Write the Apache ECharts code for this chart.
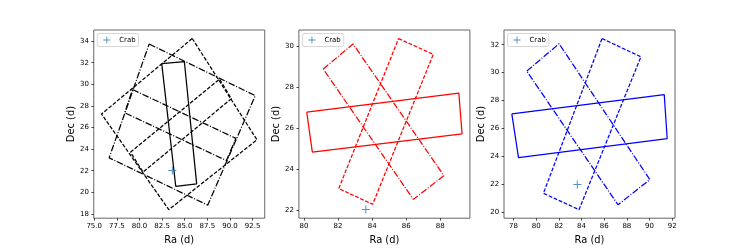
<!DOCTYPE html>
<html><head><meta charset="utf-8">
<script src="https://cdn.jsdelivr.net/npm/echarts@6/dist/echarts.min.js"></script>
<style>html,body{margin:0;padding:0;background:#fff}#c{width:750px;height:250px}</style>
</head><body><div id="c"></div>
<script>
// Crab position
const crab = [83.63, 22.01];

// Panel 1 (black)
const p1Solid   = [[82.46,31.91],[84.96,32.09],[86.32,20.78],[84.01,20.54]];
const p1SquareA = [[85.83,34.24],[92.98,24.86],[83.24,18.39],[75.81,27.25]];
const p1StripA  = [[79.00,23.71],[88.85,30.49],[90.15,28.67],[80.40,21.87]];
const p1SquareB = [[81.07,33.73],[92.79,28.95],[87.54,18.81],[76.65,23.19]];
const p1StripB  = [[79.23,29.52],[90.65,24.99],[89.60,22.94],[78.38,27.36]];

// Panel 2 (red)
const p2Solid   = [[80.16,26.77],[89.09,27.71],[89.28,25.71],[80.49,24.82]];
const p2Dashed  = [[85.55,30.37],[87.59,29.60],[84.03,22.27],[82.04,23.04]];
const p2DashDot = [[81.13,28.88],[82.88,30.11],[88.21,23.67],[86.42,22.51]];

// Panel 3 (blue)
const p3Solid   = [[77.85,27.06],[91.30,28.44],[91.56,25.29],[78.44,23.93]];
const p3Dashed  = [[85.81,32.44],[89.24,31.13],[83.78,20.21],[80.64,21.38]];
const p3DashDot = [[79.17,30.11],[82.02,32.07],[90.03,22.36],[87.22,20.56]];

// Axis ranges and ticks
const p1XRange = [74.95, 93.84], p1YRange = [17.60, 35.03];
const p2XRange = [79.70, 89.74], p2YRange = [21.59, 30.79];
const p3XRange = [77.16, 92.25], p3YRange = [19.60, 33.05];
const p1XTicks = [75, 77.5, 80, 82.5, 85, 87.5, 90, 92.5];
const p1YTicks = [18, 20, 22, 24, 26, 28, 30, 32, 34];
const p2XTicks = [80, 82, 84, 86, 88];
const p2YTicks = [22, 24, 26, 28, 30];
const p3XTicks = [78, 80, 82, 84, 86, 88, 90, 92];
const p3YTicks = [20, 22, 24, 26, 28, 30, 32];

const FONT = 'DejaVu Sans';
const LW = 1.25;
const DASH = [3.85, 1.67];
const DASHDOT = [6.67, 1.67, 1.04, 1.67];
const PLUS = 'path://M7,0h2v7h7v2h-7v7h-2v-7h-7v-2h7z';
const gridLefts = [93.75, 298.9, 504.0];
const GW = 171, GTOP = 30, GH = 192.5;

function closed(p){ return p.concat([p[0]]); }
function poly(gi, pts, color, type){
  return {type:'line', xAxisIndex:gi, yAxisIndex:gi, data:closed(pts), showSymbol:false,
    silent:true, animation:false, lineStyle:{color:color, width:LW, type:type}, z:3};
}
function crabSeries(gi){
  return {type:'scatter', name:'Crab', xAxisIndex:gi, yAxisIndex:gi, data:[crab],
    symbol:PLUS, symbolSize:8, itemStyle:{color:'#1f77b4'}, silent:true, animation:false, z:4};
}
function xAx(gi, r, ticks, fmt){
  return {type:'value', gridIndex:gi, min:r[0], max:r[1], name:'Ra (d)', nameLocation:'middle', nameGap:10.5,
    nameTextStyle:{fontSize:9.9, fontFamily:FONT, color:'#000'},
    axisLine:{show:false}, splitLine:{show:false},
    axisTick:{show:true, customValues:ticks, length:2.4, lineStyle:{color:'#000', width:0.7}},
    axisLabel:{customValues:ticks, formatter:fmt, fontSize:7, margin:4.9, color:'#000', fontFamily:FONT}};
}
function yAx(gi, r, ticks){
  return {type:'value', gridIndex:gi, min:r[0], max:r[1], name:'Dec (d)', nameLocation:'middle', nameGap:17,
    nameRotate:90, nameTextStyle:{fontSize:9.9, fontFamily:FONT, color:'#000'},
    axisLine:{show:false}, splitLine:{show:false},
    axisTick:{show:true, customValues:ticks, length:2.4, lineStyle:{color:'#000', width:0.7}},
    axisLabel:{customValues:ticks, formatter:v=>String(v), fontSize:7, margin:4.9, color:'#000', fontFamily:FONT}};
}
function legendCfg(gi){
  return {left:gridLefts[gi]+3.5, top:GTOP+3.5, z:10, selectedMode:false,
    data:[{name:'Crab', icon:PLUS}], itemWidth:7, itemHeight:7, itemGap:0,
    padding:[3,3,3,6], borderColor:'#ccc', borderWidth:0.8, borderRadius:2,
    backgroundColor:'rgba(255,255,255,0.8)',
    textStyle:{fontSize:6.94, fontFamily:FONT, color:'#000', padding:[0,0,0,4]}};
}

const chart = echarts.init(document.getElementById('c'), null, {renderer:'canvas'});
chart.setOption({
  animation:false,
  backgroundColor:'#fff',
  grid: gridLefts.map(l => ({left:l, top:GTOP, width:GW, height:GH, show:true, borderColor:'#555', borderWidth:0.9, backgroundColor:'transparent'})),
  xAxis:[xAx(0,p1XRange,p1XTicks,v=>v.toFixed(1)), xAx(1,p2XRange,p2XTicks,v=>String(v)), xAx(2,p3XRange,p3XTicks,v=>String(v))],
  yAxis:[yAx(0,p1YRange,p1YTicks), yAx(1,p2YRange,p2YTicks), yAx(2,p3YRange,p3YTicks)],
  legend:[legendCfg(0), legendCfg(1), legendCfg(2)],
  series:[
    poly(0,p1Solid,'#000','solid'),
    poly(0,p1SquareA,'#000',DASH),
    poly(0,p1StripA,'#000',DASH),
    poly(0,p1SquareB,'#000',DASHDOT),
    poly(0,p1StripB,'#000',DASHDOT),
    crabSeries(0),
    poly(1,p2Solid,'#ff0000','solid'),
    poly(1,p2Dashed,'#ff0000',DASH),
    poly(1,p2DashDot,'#ff0000',DASHDOT),
    crabSeries(1),
    poly(2,p3Solid,'#0000ff','solid'),
    poly(2,p3Dashed,'#0000ff',DASH),
    poly(2,p3DashDot,'#0000ff',DASHDOT),
    crabSeries(2)
  ]
});
</script>
</body></html>
